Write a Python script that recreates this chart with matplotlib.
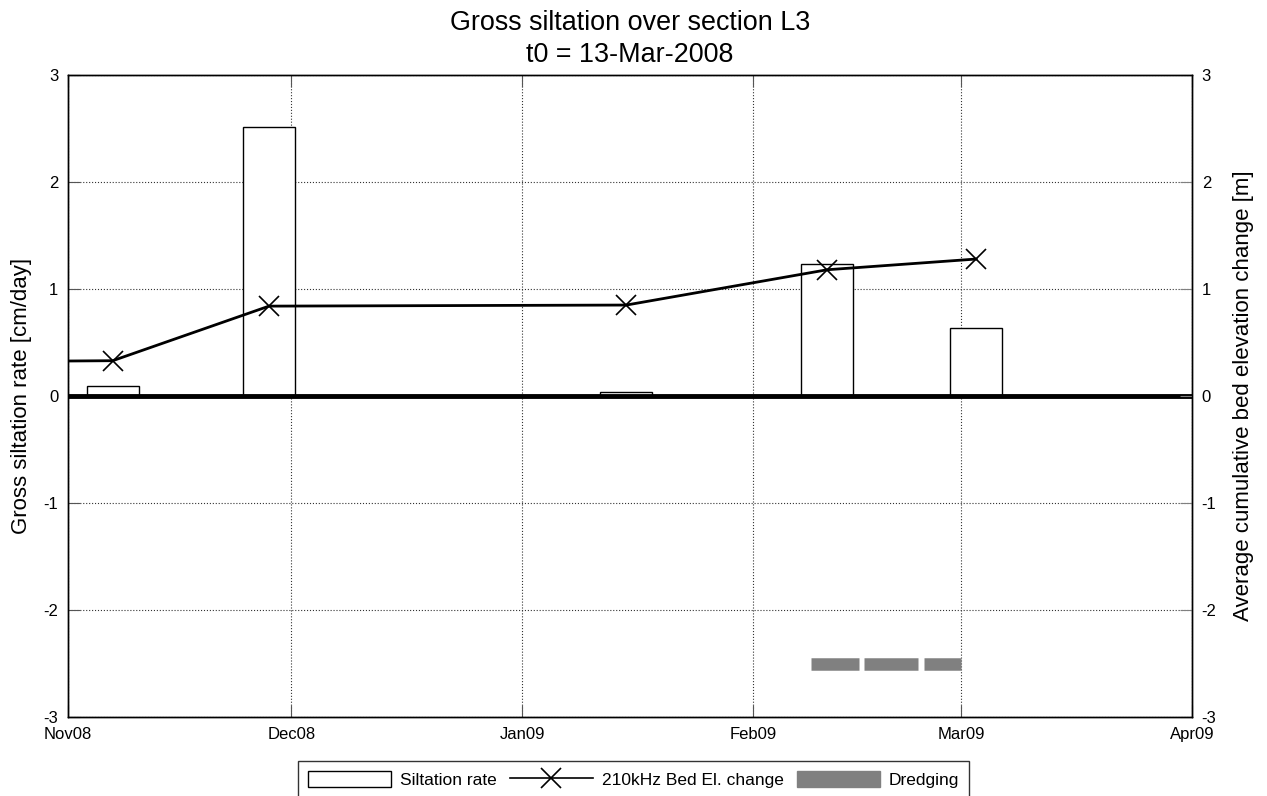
import numpy as np
import matplotlib
matplotlib.use("Agg")
import matplotlib.pyplot as plt
import matplotlib.dates as mdates
from matplotlib.patches import Patch
from matplotlib.lines import Line2D
from datetime import datetime

plt.rcParams['font.family'] = ['Liberation Sans', 'DejaVu Sans']
plt.rcParams['axes.unicode_minus'] = False

# siltation rate per survey interval [cm/day]
bar_dates = [datetime(2008, 11, 7), datetime(2008, 11, 28), datetime(2009, 1, 15),
             datetime(2009, 2, 11), datetime(2009, 3, 3)]
bar_rates = [0.09, 2.51, 0.04, 1.23, 0.64]
bar_width_days = 7

# 210kHz cumulative bed elevation change [m]
bed_dates = [datetime(2008, 10, 17), datetime(2008, 11, 7), datetime(2008, 11, 28),
             datetime(2009, 1, 15), datetime(2009, 2, 11), datetime(2009, 3, 3)]
bed_change = [0.32, 0.33, 0.84, 0.85, 1.18, 1.28]

# dredging periods (start, end)
dredge_start = [datetime(2009, 2, 8, 20), datetime(2009, 2, 16), datetime(2009, 2, 24)]
dredge_end = [datetime(2009, 2, 15, 5), datetime(2009, 2, 23, 3), datetime(2009, 3, 1)]
dredge_level = -2.5

month_ticks = [datetime(2008, 11, 1), datetime(2008, 12, 1), datetime(2009, 1, 1),
               datetime(2009, 2, 1), datetime(2009, 3, 1), datetime(2009, 4, 1)]
y_ticks = [-3, -2, -1, 0, 1, 2, 3]

fig = plt.figure(figsize=(12.67, 7.96), dpi=100)
ax = fig.add_axes([0.0537, 0.0992, 0.8871, 0.8066])

# bars
ax.bar(bar_dates, bar_rates, width=bar_width_days, color='white', edgecolor='black',
       linewidth=1.0, zorder=3)

# zero line
ax.axhline(0, color='black', linewidth=3.5, zorder=4)

# dredging periods
for s, e in zip(dredge_start, dredge_end):
    ax.plot([s, e], [dredge_level, dredge_level], color='#808080', linewidth=9,
            solid_capstyle='butt', zorder=3)

# second axis for bed elevation
ax2 = ax.twinx()
ax2.plot(bed_dates, bed_change, color='black', linewidth=2, marker='x', markersize=14,
         markeredgewidth=1.2, zorder=5)

ax.set_xlim(month_ticks[0], month_ticks[-1])
ax.set_ylim(-3, 3)
ax2.set_ylim(-3, 3)
ax.set_xticks(month_ticks)
ax.xaxis.set_major_formatter(mdates.DateFormatter('%b%y'))
ax.set_yticks(y_ticks)
ax2.set_yticks(y_ticks)

ax.grid(True, linestyle=':', color='#333333', linewidth=0.8)
ax.tick_params(direction='in', length=8.5, labelsize=12, top=True, pad=7, color='#555555')
ax2.tick_params(direction='in', length=8.5, labelsize=12, pad=7, color='#808080')

for a in (ax, ax2):
    for sp in a.spines.values():
        sp.set_linewidth(1.0)

ax.set_ylabel('Gross siltation rate [cm/day]', fontsize=16, labelpad=8)
ax2.set_ylabel('Average cumulative bed elevation change [m]', fontsize=16, labelpad=12)
ax.set_title('Gross siltation over section L3\nt0 = 13-Mar-2008', fontsize=19.4, pad=9,
             linespacing=1.3)

handles = [Patch(facecolor='white', edgecolor='black', linewidth=1.0),
           Line2D([], [], color='black', linewidth=1.2, marker='x', markersize=14,
                  markeredgewidth=1.2),
           Patch(facecolor='#808080', edgecolor='#808080')]
labels = ['Siltation rate', '210kHz Bed El. change', 'Dredging']
leg = fig.legend(handles, labels, loc='upper center', bbox_to_anchor=(0.5, 1 - 761 / 796),
                 ncol=3, fontsize=12.5, frameon=True, fancybox=False, edgecolor='black',
                 handlelength=4.8, handleheight=1.1, columnspacing=0.75, handletextpad=0.5,
                 borderpad=0.55, borderaxespad=0)
leg.get_frame().set_linewidth(1.0)

fig.savefig('out.png', dpi=100)
